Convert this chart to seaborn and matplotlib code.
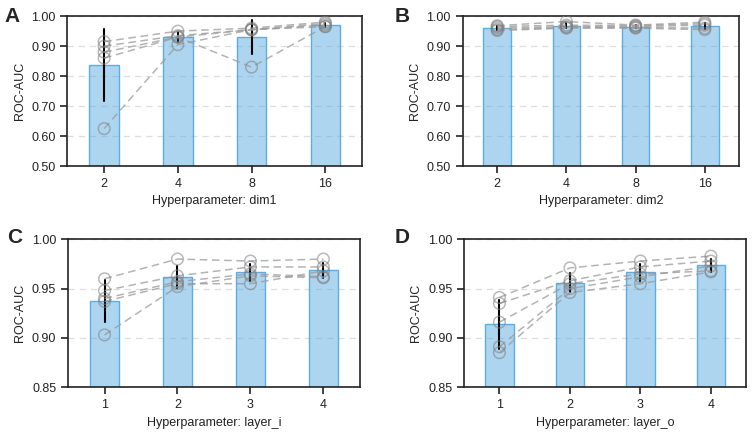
import pandas as pd
import seaborn as sns
from matplotlib import pyplot as plt

# one list per run
DIM1_LEVELS = ["2", "4", "8", "16"]
DIM1_RUNS = [
    [0.915, 0.950, 0.960, 0.980],
    [0.900, 0.935, 0.955, 0.975],
    [0.880, 0.930, 0.830, 0.965],
    [0.860, 0.930, 0.955, 0.965],
    [0.625, 0.905, 0.955, 0.970],
]

DIM2_LEVELS = ["2", "4", "8", "16"]
DIM2_RUNS = [
    [0.968, 0.982, 0.970, 0.980],
    [0.965, 0.970, 0.968, 0.975],
    [0.960, 0.965, 0.965, 0.970],
    [0.955, 0.962, 0.962, 0.960],
    [0.952, 0.960, 0.960, 0.955],
]

LAYER_I_LEVELS = ["1", "2", "3", "4"]
LAYER_I_RUNS = [
    [0.960, 0.980, 0.978, 0.980],
    [0.948, 0.963, 0.972, 0.972],
    [0.940, 0.957, 0.965, 0.962],
    [0.937, 0.955, 0.955, 0.968],
    [0.903, 0.952, 0.963, 0.961],
]

LAYER_O_LEVELS = ["1", "2", "3", "4"]
LAYER_O_RUNS = [
    [0.941, 0.971, 0.978, 0.983],
    [0.935, 0.958, 0.972, 0.978],
    [0.916, 0.955, 0.965, 0.968],
    [0.891, 0.950, 0.962, 0.973],
    [0.885, 0.946, 0.955, 0.967],
]

PANELS = [
    ("A", "dim1", DIM1_LEVELS, DIM1_RUNS, (0.5, 1.0), [0.5, 0.6, 0.7, 0.8, 0.9, 1.0]),
    ("B", "dim2", DIM2_LEVELS, DIM2_RUNS, (0.5, 1.0), [0.5, 0.6, 0.7, 0.8, 0.9, 1.0]),
    ("C", "layer_i", LAYER_I_LEVELS, LAYER_I_RUNS, (0.85, 1.0), [0.85, 0.90, 0.95, 1.0]),
    ("D", "layer_o", LAYER_O_LEVELS, LAYER_O_RUNS, (0.85, 1.0), [0.85, 0.90, 0.95, 1.0]),
]

# axes rectangles in figure fraction
AX_RECTS = [
    [0.089, 0.619, 0.390, 0.344],
    [0.612, 0.619, 0.366, 0.344],
    [0.090, 0.112, 0.386, 0.339],
    [0.614, 0.112, 0.373, 0.339],
]
LETTER_POS = [(0.006, 0.950), (0.522, 0.950), (0.010, 0.443), (0.522, 0.443)]

BAR_COLOR = "#5DADE2"


def to_frame(levels, runs):
    rows = []
    for run_id, run in enumerate(runs):
        for pos, (level, val) in enumerate(zip(levels, run)):
            rows.append({"level": level, "pos": pos, "run": run_id, "auc": val})
    return pd.DataFrame(rows)


def draw_panel(ax, letter, name, levels, runs, ylim, yticks):
    df = to_frame(levels, runs)
    ax.yaxis.grid(True, ls=(0, (5, 4)), color="#dddddd", lw=0.9, zorder=0)
    ax.set_axisbelow(True)
    sns.barplot(data=df, x="level", y="auc", order=levels, ax=ax, width=0.4,
                errorbar="sd", capsize=0, color=BAR_COLOR, alpha=0.5,
                err_kws={"color": "black", "linewidth": 1.5, "alpha": 1, "zorder": 4})
    for patch in ax.patches:
        patch.set_edgecolor(BAR_COLOR)
        patch.set_linewidth(1.0)
        patch.set_alpha(None)
        patch.set_facecolor((93 / 255, 173 / 255, 226 / 255, 0.5))
    for run_id in df["run"].unique():
        sub = df[df["run"] == run_id]
        sns.lineplot(data=sub, x="pos", y="auc", ax=ax, color="#9a9a9a",
                     linestyle=(0, (5, 3)), linewidth=1.1, alpha=0.75, zorder=5)
    ax.scatter(df["pos"], df["auc"], s=70, facecolors="none", edgecolors="#808080",
               linewidths=1.1, alpha=0.55, zorder=6)
    ax.set_ylim(*ylim)
    ax.set_yticks(yticks)
    ax.set_yticklabels([f"{t:.2f}" for t in yticks])
    ax.set_xlim(-0.5, len(levels) - 0.5)
    ax.set_xticks(range(len(levels)))
    ax.set_xticklabels(levels)
    ax.set_xlabel(f"Hyperparameter: {name}")
    ax.set_ylabel("ROC-AUC")
    for sp in ax.spines.values():
        sp.set_color("#222222")
        sp.set_linewidth(1.2)
    ax.tick_params(direction="out", length=5, width=1.2, color="#222222",
                   labelsize=9, labelcolor="#222222")


if __name__ == "__main__":
    sns.set_style("ticks")
    plt.rcParams["font.family"] = ["Liberation Sans", "DejaVu Sans"]
    plt.rcParams["axes.labelsize"] = 9
    plt.rcParams["axes.labelcolor"] = "#222222"

    fig = plt.figure(figsize=(7.56, 4.36), dpi=100)
    for rect, (lx, ly), panel in zip(AX_RECTS, LETTER_POS, PANELS):
        ax = fig.add_axes(rect)
        draw_panel(ax, *panel)
        fig.text(lx, ly, panel[0], fontsize=15, fontweight="bold", va="baseline")
    fig.savefig("out.png", dpi=100)
